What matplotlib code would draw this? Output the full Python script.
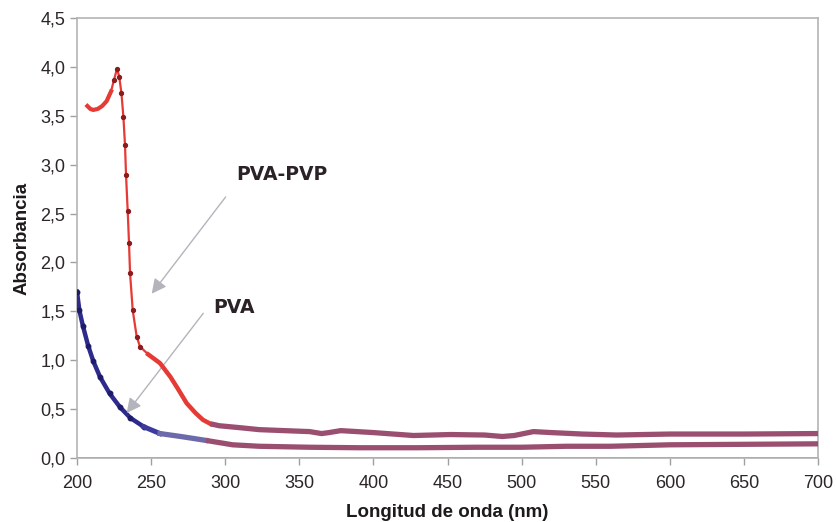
import matplotlib
matplotlib.use("Agg")
import matplotlib.pyplot as plt
import numpy as np

plt.rcParams['font.family'] = ['Liberation Sans', 'DejaVu Sans']

# PVA spectrum
pva_nm = [200, 201.6, 204, 207.5, 211, 215.5, 222, 229, 236, 245, 256, 270, 287,
          305, 323, 357, 390, 430, 470, 500, 530, 560, 600, 650, 700]
pva_abs = [1.70, 1.51, 1.35, 1.15, 0.99, 0.83, 0.66, 0.52, 0.41, 0.32, 0.25, 0.22, 0.18,
           0.135, 0.12, 0.11, 0.105, 0.105, 0.11, 0.11, 0.12, 0.12, 0.135, 0.14, 0.145]

# PVA-PVP spectrum
mix_nm = [207, 209, 211, 214, 217, 220, 223, 225, 227, 228.5, 230, 231.3, 232.4, 233.1,
          234.2, 235.1, 235.8, 237.6, 240.3, 242.5, 248, 256, 263, 268, 274, 280, 285,
          290, 296, 310, 323, 340, 357, 365, 370, 378, 400, 427, 452, 475, 487, 495,
          508, 520, 541, 564, 600, 650, 700]
mix_abs = [3.60, 3.57, 3.56, 3.57, 3.60, 3.65, 3.75, 3.87, 3.98, 3.90, 3.73, 3.49, 3.20, 2.89,
           2.53, 2.20, 1.89, 1.51, 1.24, 1.14, 1.06, 0.97, 0.83, 0.71, 0.56, 0.46, 0.39,
           0.35, 0.33, 0.31, 0.29, 0.28, 0.27, 0.25, 0.26, 0.28, 0.26, 0.23, 0.24, 0.235, 0.22, 0.23,
           0.27, 0.26, 0.245, 0.235, 0.245, 0.245, 0.25]

xticks = [200, 250, 300, 350, 400, 450, 500, 550, 600, 650, 700]
yticks = [0.0, 0.5, 1.0, 1.5, 2.0, 2.5, 3.0, 3.5, 4.0, 4.5]

mauve = '#9b4f70'

fig = plt.figure(figsize=(8.36, 5.22), dpi=100)
ax = fig.add_axes([0.0921, 0.1226, 0.8864, 0.8429])

pva_nm = np.array(pva_nm)
pva_abs = np.array(pva_abs)
mix_nm = np.array(mix_nm)
mix_abs = np.array(mix_abs)

# baseline
ax.plot([200, 700], [0.004, 0.004], color='#8c6a9c', lw=1.2, zorder=2)

# PVA: navy -> violet -> mauve
m = pva_nm <= 245
ax.plot(pva_nm[m], pva_abs[m], color='#2e2b8c', lw=3.2, marker='o', ms=3.2,
        mfc='#1e1b6a', mec='#1e1b6a', zorder=3)
m = (pva_nm >= 245) & (pva_nm <= 258)
ax.plot(pva_nm[m], pva_abs[m], color='#3c3a9c', lw=3.6, zorder=3)
seg_x = np.concatenate([[256], pva_nm[(pva_nm > 256) & (pva_nm < 287)], [287]])
ax.plot(seg_x, np.interp(seg_x, pva_nm, pva_abs), color='#6c6aaa', lw=3.8, zorder=3)
m = pva_nm >= 287
ax.plot(pva_nm[m], pva_abs[m], color=mauve, lw=3.8, solid_capstyle='butt', zorder=3)

# PVA-PVP: red -> mauve
m = mix_nm <= 290
ax.plot(mix_nm[m], mix_abs[m], color='#e63a34', lw=1.6, zorder=4)
m = mix_nm <= 224
ax.plot(mix_nm[m], mix_abs[m], color='#e63a34', lw=3.0, zorder=4)
m = (mix_nm >= 225) & (mix_nm <= 243)
ax.plot(mix_nm[m], mix_abs[m], ls='none', marker='o', ms=2.8,
        mfc='#8a1c20', mec='#8a1c20', zorder=5)
m = (mix_nm >= 243) & (mix_nm <= 290)
ax.plot(mix_nm[m], mix_abs[m], color='#e63a34', lw=3.2, zorder=4)
m = mix_nm >= 290
ax.plot(mix_nm[m], mix_abs[m], color=mauve, lw=3.8, solid_capstyle='butt', zorder=4)

# labels with arrows
arrow = dict(arrowstyle='-|>', color='#b4b4bc', lw=1.0, mutation_scale=22,
             shrinkA=0, shrinkB=0)
ax.annotate('', xy=(250.4, 1.68), xytext=(300.3, 2.67), arrowprops=arrow)
ax.annotate('', xy=(233.5, 0.46), xytext=(285.2, 1.48), arrowprops=arrow)
ax.text(338, 2.90, 'PVA-PVP', fontsize=13.5, fontweight='bold', color='#2a2226',
        family=['DejaVu Sans'], ha='center', va='center')
ax.text(306, 1.54, 'PVA', fontsize=13.5, fontweight='bold', color='#2a2226',
        family=['DejaVu Sans'], ha='center', va='center')

ax.set_xlim(200, 700)
ax.set_ylim(0, 4.5)
ax.set_xticks(xticks)
ax.set_xticklabels([str(t) for t in xticks])
ax.set_yticks(yticks)
ax.set_yticklabels([f'{t:.1f}'.replace('.', ',') for t in yticks])
ax.tick_params(labelsize=13, labelcolor='#2c2628', color='#a0a0a0',
               length=5, width=1, direction='out')
ax.tick_params(axis='x', pad=7)
for s in ax.spines.values():
    s.set_color('#b4b4b4')
    s.set_linewidth(1.2)

ax.set_xlabel('Longitud de onda (nm)', fontsize=13.5, fontweight='bold',
              color='#1e1a1c', labelpad=9)
ax.set_ylabel('Absorbancia', fontsize=13.5, fontweight='bold', color='#1e1a1c',
              labelpad=7)

fig.savefig('out.png', dpi=100)
